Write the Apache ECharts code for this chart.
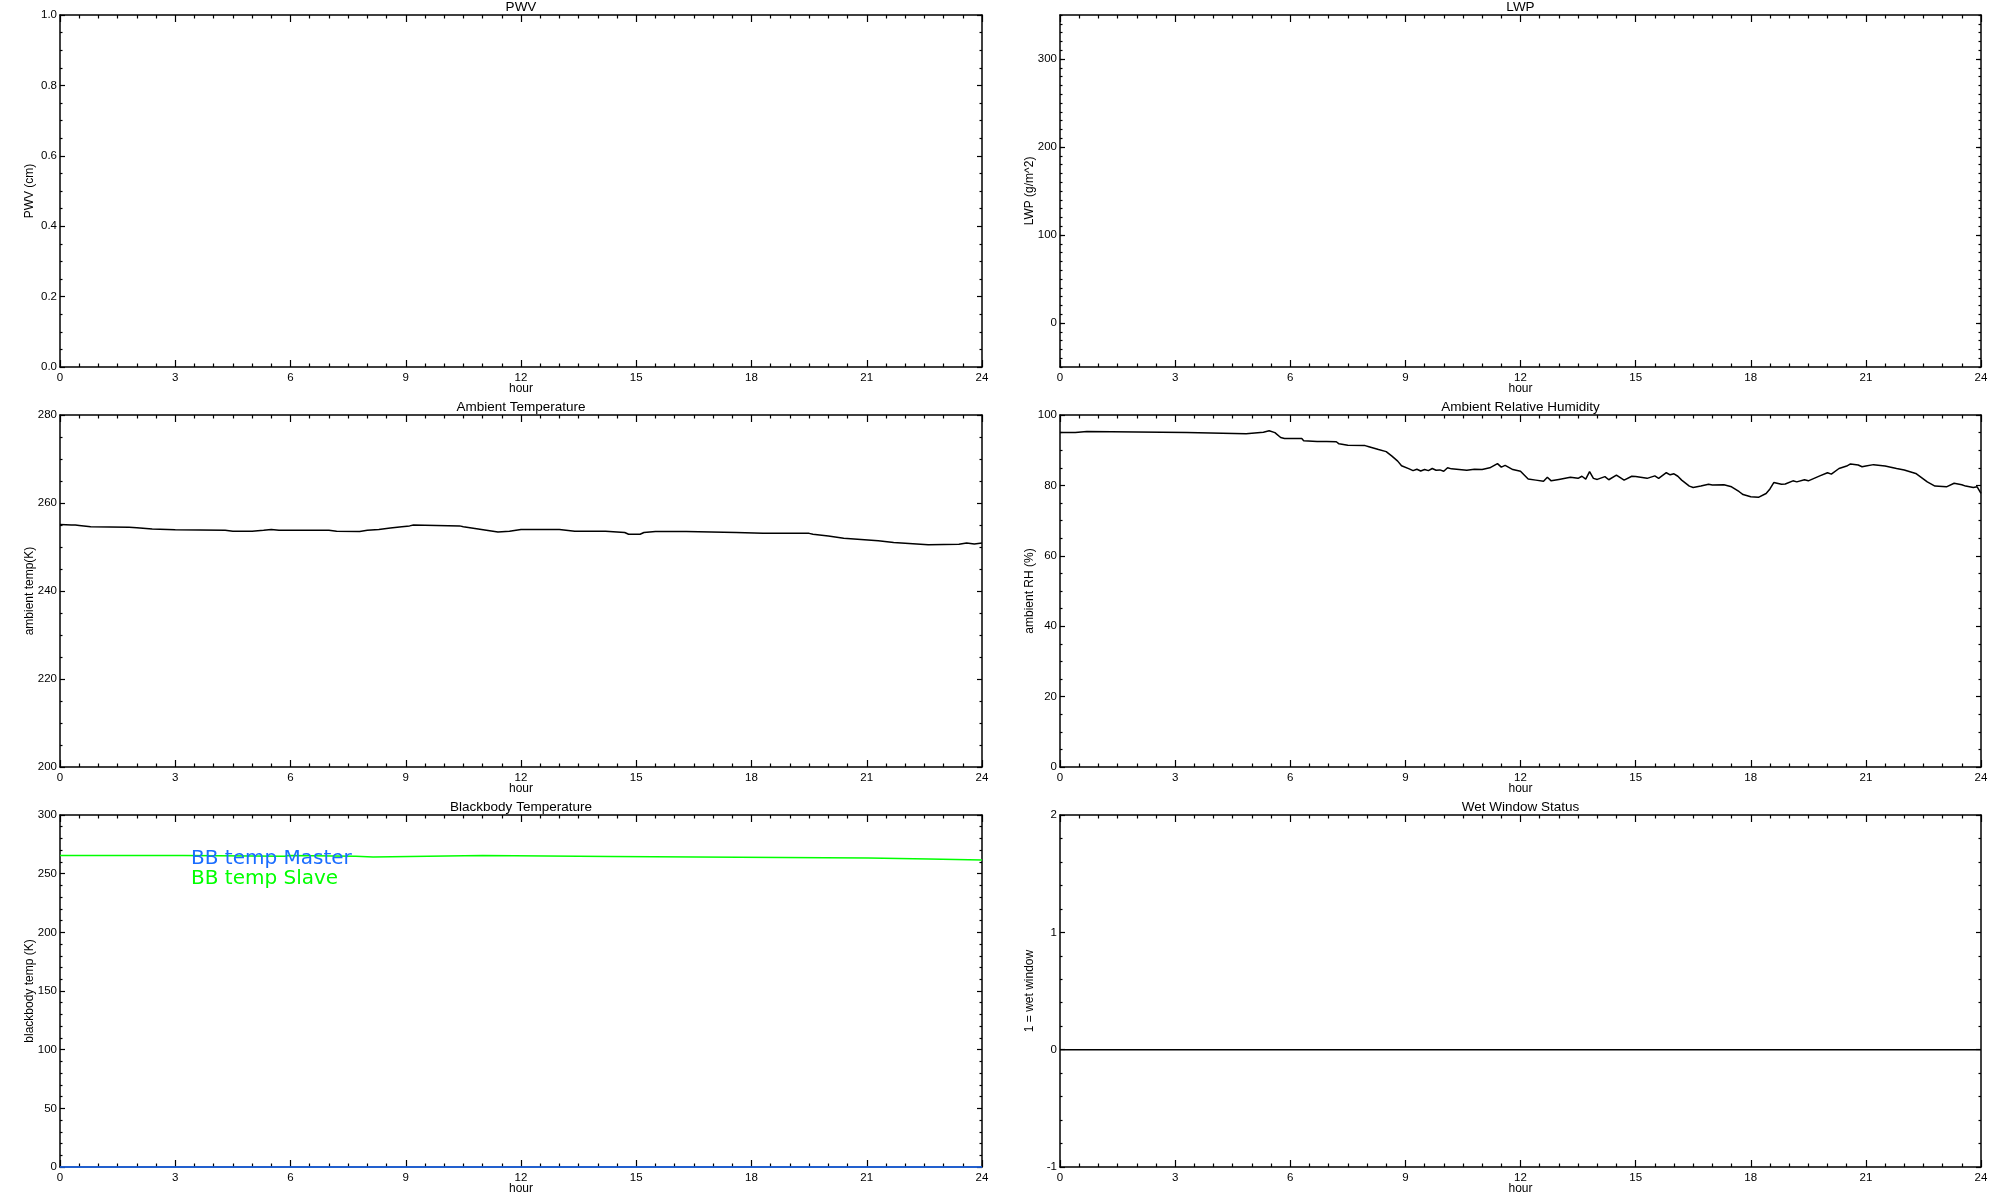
<!DOCTYPE html>
<html><head><meta charset="utf-8">
<script src="https://cdn.jsdelivr.net/npm/echarts@6/dist/echarts.min.js"></script>
<style>html,body{margin:0;padding:0;background:#fff}#c{width:2000px;height:1200px}</style>
</head><body><div id="c"></div>
<script>
// ---------------- data ----------------
const panelTitles = ['PWV', 'LWP', 'Ambient Temperature', 'Ambient Relative Humidity', 'Blackbody Temperature', 'Wet Window Status'];
const yNames = ['PWV (cm)', 'LWP (g/m^2)', 'ambient temp(K)', 'ambient RH (%)', 'blackbody temp (K)', '1 = wet window'];
const xTickLabels = [0, 3, 6, 9, 12, 15, 18, 21, 24];
const pwvTicks = [0.0, 0.2, 0.4, 0.6, 0.8, 1.0];
const lwpTicks = [0, 100, 200, 300];
const tempTicks = [200, 220, 240, 260, 280];
const rhTicks = [0, 20, 40, 60, 80, 100];
const bbTicks = [0, 50, 100, 150, 200, 250, 300];
const wetTicks = [-1, 0, 1, 2];

const tempHours = [0, 0.3, 0.35, 0.4, 0.5, 0.8, 1.8, 2.0, 2.4, 3.0, 4.3, 4.5, 5.0, 5.3, 5.5, 5.7, 7.0, 7.2, 7.8, 8.0, 8.3, 8.6, 8.9, 9.1, 9.2, 9.25, 10.4, 10.5, 10.8, 11.1, 11.4, 11.7, 12.0, 12.8, 13.0, 13.4, 14.2, 14.25, 14.7, 14.8, 15.1, 15.2, 15.5, 16.3, 16.35, 17.6, 17.65, 18.3, 18.35, 19.5, 19.6, 20.0, 20.4, 20.85, 21.3, 21.7, 22.6, 23.4, 23.6, 23.8, 24.0];
const tempValues = [255.1, 255.0, 255.2, 255.0, 254.9, 254.6, 254.5, 254.4, 254.1, 253.9, 253.8, 253.6, 253.6, 253.8, 254.0, 253.8, 253.8, 253.6, 253.5, 253.8, 254.0, 254.3, 254.6, 254.8, 255.0, 254.8, 254.8, 254.6, 254.2, 253.8, 253.4, 253.6, 254.0, 254.0, 253.95, 253.6, 253.6, 253.3, 253.3, 252.9, 252.9, 253.3, 253.55, 253.55, 253.3, 253.3, 253.1, 253.1, 252.9, 253.1, 252.9, 252.5, 252.0, 251.7, 251.4, 251.0, 250.5, 250.6, 250.9, 250.7, 250.9];

const rhHours = [0.0, 0.4, 0.45, 0.7, 0.75, 3.3, 3.32, 4.85, 4.87, 5.3, 5.45, 5.6, 5.75, 5.85, 6.3, 6.35, 6.7, 6.75, 6.95, 7.2, 7.27, 7.5, 7.95, 8.05, 8.3, 8.5, 8.65, 8.8, 8.9, 9.1, 9.2, 9.3, 9.4, 9.5, 9.6, 9.7, 9.8, 9.9, 10.0, 10.1, 10.2, 10.4, 10.6, 10.8, 11.0, 11.2, 11.4, 11.5, 11.6, 11.8, 12.0, 12.2, 12.4, 12.6, 12.7, 12.8, 13.0, 13.3, 13.5, 13.6, 13.7, 13.8, 13.9, 14.0, 14.2, 14.3, 14.5, 14.7, 14.9, 15.0, 15.3, 15.5, 15.6, 15.8, 15.9, 16.0, 16.1, 16.2, 16.4, 16.5, 16.7, 16.9, 17.0, 17.3, 17.5, 17.7, 17.8, 18.0, 18.2, 18.4, 18.5, 18.6, 18.8, 18.9, 19.1, 19.2, 19.4, 19.5, 19.8, 20.0, 20.1, 20.3, 20.5, 20.6, 20.8, 20.9, 21.0, 21.2, 21.5, 21.8, 22.0, 22.3, 22.6, 22.8, 23.1, 23.3, 23.5, 23.6, 23.8, 23.9, 24.0];
const rhValues = [95.0, 95.0, 95.3, 95.3, 95.0, 95.0, 94.7, 94.7, 95.0, 95.1, 95.5, 95.0, 93.6, 93.3, 93.3, 92.7, 92.5, 92.8, 92.5, 92.4, 91.8, 91.4, 91.3, 91.0, 90.2, 89.6, 88.3, 86.9, 85.6, 84.7, 84.2, 84.6, 84.1, 84.5, 84.2, 84.8, 84.3, 84.4, 84.0, 85.0, 84.7, 84.5, 84.3, 84.6, 84.5, 85.0, 86.2, 85.2, 85.7, 84.5, 84.0, 81.8, 81.5, 81.2, 82.3, 81.3, 81.7, 82.3, 82.0, 82.6, 81.8, 83.9, 82.0, 81.7, 82.5, 81.6, 82.9, 81.5, 82.6, 82.5, 82.0, 82.7, 82.0, 83.6, 83.0, 83.3, 82.6, 81.5, 79.8, 79.4, 79.8, 80.3, 80.1, 80.2, 79.6, 78.2, 77.4, 76.8, 76.6, 77.7, 79.0, 80.8, 80.3, 80.4, 81.3, 81.0, 81.6, 81.3, 82.7, 83.6, 83.2, 84.8, 85.5, 86.1, 85.8, 85.3, 85.5, 85.9, 85.5, 84.8, 84.4, 83.4, 81.0, 79.8, 79.6, 80.6, 80.2, 79.8, 79.4, 79.6, 77.7];

const bbSlaveHours = [0, 3.2, 5.85, 5.95, 7.7, 8.15, 11.0, 14.32, 21.04, 22.62, 24];
const bbSlaveValues = [265.4, 264.8, 265.4, 264.8, 264.3, 265.4, 264.6, 263.4, 262.6, 261.7, 261.7];
const bbMasterHours = [0, 24];
const bbMasterValues = [0, 0];
const wetHours = [0, 24];
const wetValues = [0, 0];

const seriesNames = ['BB temp Master', 'BB temp Slave'];

// ---------------- chart ----------------
const pairs = (xs, ys) => xs.map((x, i) => [x, ys[i]]);
const font = '"Liberation Sans", Arial, sans-serif';
const black = '#000';
const blue = '#1a6dff';
const green = '#00ff00';

const panels = [
  { min: 0, max: 1, interval: 0.2, minor: 4, ticks: pwvTicks, fmt: v => v.toFixed(1) },
  { min: -50, max: 350, interval: 50, minorStep: 10, ticks: lwpTicks },
  { min: 200, max: 280, interval: 20, minor: 4, ticks: tempTicks },
  { min: 0, max: 100, interval: 20, minor: 4, ticks: rhTicks },
  { min: 0, max: 300, interval: 50, minor: 5, ticks: bbTicks },
  { min: -1, max: 2, interval: 1, minor: 5, ticks: wetTicks }
];

const colLeft = [60, 1060];
const colWidth = [922, 921];
const rowTop = [15, 415, 815];
const gridH = 352;

const grids = [], xAxes = [], yAxes = [], titles = [], series = [];
const axisLine = { show: true, onZero: false, lineStyle: { color: black, width: 1.5 } };
const tickStyle = { color: black, width: 1.2 };
const xIdx = [], yIdx = [];

panels.forEach((p, i) => {
  const c = i % 2, r = Math.floor(i / 2);
  grids.push({ left: colLeft[c], top: rowTop[r], width: colWidth[c], height: gridH, containLabel: false });
  titles.push({
    text: panelTitles[i], left: colLeft[c] + colWidth[c] / 2, top: rowTop[r] - 14.5, textAlign: 'center',
    padding: 0,
    textStyle: { fontFamily: font, fontSize: 13.5, fontWeight: 'normal', color: black }
  });
  const xBase = { gridIndex: i, type: 'value', min: 0, max: 24, interval: 3, axisLine,
    axisTick: { show: true, inside: true, length: 7, lineStyle: tickStyle },
    minorTick: { show: true, splitNumber: 6, length: 3.5, lineStyle: tickStyle },
    splitLine: { show: false }, minorSplitLine: { show: false } };
  xIdx.push(xAxes.length);
  xAxes.push(Object.assign({}, xBase, {
    position: 'bottom', name: 'hour', nameLocation: 'middle', nameGap: 15.5, nameMoveOverlap: false,
    nameTextStyle: { fontFamily: font, fontSize: 12, color: black },
    axisLabel: { show: true, margin: 5, fontFamily: font, fontSize: 11.5, color: black }
  }));
  xAxes.push(Object.assign({}, xBase, { position: 'top', axisLabel: { show: false } }));

  const yBase = { gridIndex: i, type: 'value', min: p.min, max: p.max, interval: p.interval, axisLine,
    axisTick: { show: true, inside: true, length: 5, lineStyle: tickStyle, customValues: p.ticks },
    minorTick: { show: !!p.minor, splitNumber: p.minor || 5, length: 2.5, lineStyle: tickStyle },
    splitLine: { show: false }, minorSplitLine: { show: false } };
  yIdx.push(yAxes.length);
  yAxes.push(Object.assign({}, yBase, {
    position: 'left', name: yNames[i], nameLocation: 'middle', nameGap: 24, nameMoveOverlap: false,
    nameTextStyle: { fontFamily: font, fontSize: 12, color: black },
    axisLabel: { show: true, margin: 3, fontFamily: font, fontSize: 11.5, color: black,
      customValues: p.ticks, formatter: p.fmt || (v => String(v)) }
  }));
  yAxes.push(Object.assign({}, yBase, { position: 'right', axisLabel: { show: false } }));
  if (p.minorStep) {
    ['left', 'right'].forEach(pos => {
      yAxes.push({ gridIndex: i, type: 'value', min: p.min, max: p.max, interval: p.minorStep, position: pos,
        axisLine: { show: false, onZero: false }, axisLabel: { show: false },
        axisTick: { show: true, inside: true, length: 2.5, lineStyle: tickStyle },
        splitLine: { show: false } });
    });
  }
});

const lineSeries = (name, panel, data, color, extra) => Object.assign({
  name, type: 'line', xAxisIndex: xIdx[panel], yAxisIndex: yIdx[panel], data,
  showSymbol: false, symbol: 'none', animation: false, clip: false,
  lineStyle: { color, width: 1.5 }, itemStyle: { color }
}, extra || {});

series.push(lineSeries('ambient temp', 2, pairs(tempHours, tempValues), black));
series.push(lineSeries('ambient RH', 3, pairs(rhHours, rhValues), black));
series.push(lineSeries(seriesNames[0], 4, pairs(bbMasterHours, bbMasterValues), blue));
series.push(lineSeries(seriesNames[1], 4, pairs(bbSlaveHours, bbSlaveValues), green, { step: 'end' }));
series.push(lineSeries('wet window', 5, pairs(wetHours, wetValues), black));

const chart = echarts.init(document.getElementById('c'), null, { renderer: 'canvas' });
chart.setOption({
  backgroundColor: '#fff',
  animation: false,
  title: titles,
  legend: {
    data: [
      { name: seriesNames[0], textStyle: { color: blue } },
      { name: seriesNames[1], textStyle: { color: green } }
    ],
    orient: 'vertical', left: 186, top: 849, padding: 0, itemGap: 0,
    itemWidth: 0, itemHeight: 0, icon: 'none', selectedMode: false,
    textStyle: { fontFamily: '"DejaVu Sans", sans-serif', fontSize: 20 }
  },
  grid: grids,
  xAxis: xAxes,
  yAxis: yAxes,
  series
});
</script></body></html>
